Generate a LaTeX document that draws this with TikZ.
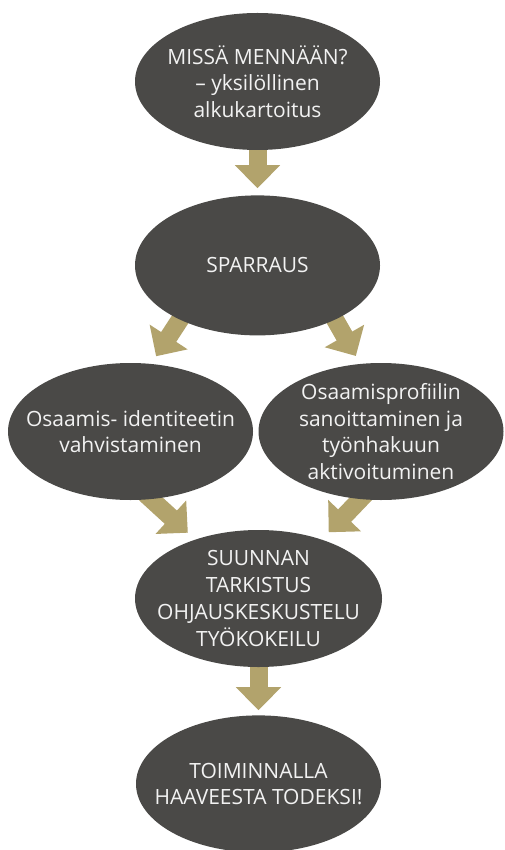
\documentclass[tikz,border=0pt]{standalone}
\usepackage{fontspec}
\setmainfont{Open Sans}
\usepackage{xcolor}
\usepackage{tikz}
\usetikzlibrary{arrows.meta}
\usetikzlibrary{shapes.geometric}
\usetikzlibrary{positioning}
\usetikzlibrary{backgrounds}
\definecolor{bubblegray}{HTML}{4A4947}
\definecolor{bubbletext}{HTML}{F2F2F2}
\definecolor{arrowgold}{HTML}{B2A36C}

\begin{document}
\begin{tikzpicture}[x=1pt, y=-1pt, node distance = 45pt]
          \tikzstyle{bubble}=[ellipse,fill=bubblegray,text=bubbletext,align=center,inner xsep=-24pt,inner ysep=-5pt,minimum width=245pt,minimum height=137pt,font=\fontsize{21}{26.7}\selectfont]
          \tikzstyle{flow}=[arrowgold,line width=18pt,shorten <=-8pt,-{Triangle[width=44pt,length=23pt]}]
          \useasboundingbox (0,0) rectangle (504,850) ;
          \node[bubble] (missa) at (257.5,81.5) {MISSÄ MENNÄÄN?\\– yksilöllinen\\alkukartoitus} ;
          \node[bubble,minimum height=140pt] (sparraus) [below=of missa] {SPARRAUS} ;
          \node[bubble] (osaamis) at (130.5,431.5) {Osaamis- identiteetin\\vahvistaminen} ;
          \node[bubble] (profiili) at (381,431.5) {Osaamisprofiilin\\sanoittaminen ja\\työnhakuun\\aktivoituminen} ;
          \node[bubble,minimum width=247pt] (suunta) at (258.5,598.5) {SUUNNAN\\TARKISTUS\\OHJAUSKESKUSTELU\\TYÖKOKEILU} ;
          \node[bubble] (toiminta) [below=48pt of suunta] {TOIMINNALLA\\HAAVEESTA TODEKSI!} ;
          % arrows behind the bubbles
          \begin{scope}[on background layer]
            \draw[flow,shorten >=7pt] (missa.south) -- (sparraus.north) ;
            \draw[flow,shorten >=9pt] (sparraus.215) -- (osaamis.73) ;
            \draw[flow,shorten >=9pt] (sparraus.325) -- (profiili.107) ;
            \draw[flow,shorten >=10pt] (osaamis.287) -- (suunta.137) ;
            \draw[flow,shorten >=10pt] (profiili.253) -- (suunta.43) ;
            \draw[flow,shorten >=5pt] (suunta.south) -- (toiminta.north) ;
          \end{scope}
        \end{tikzpicture}
\end{document}
